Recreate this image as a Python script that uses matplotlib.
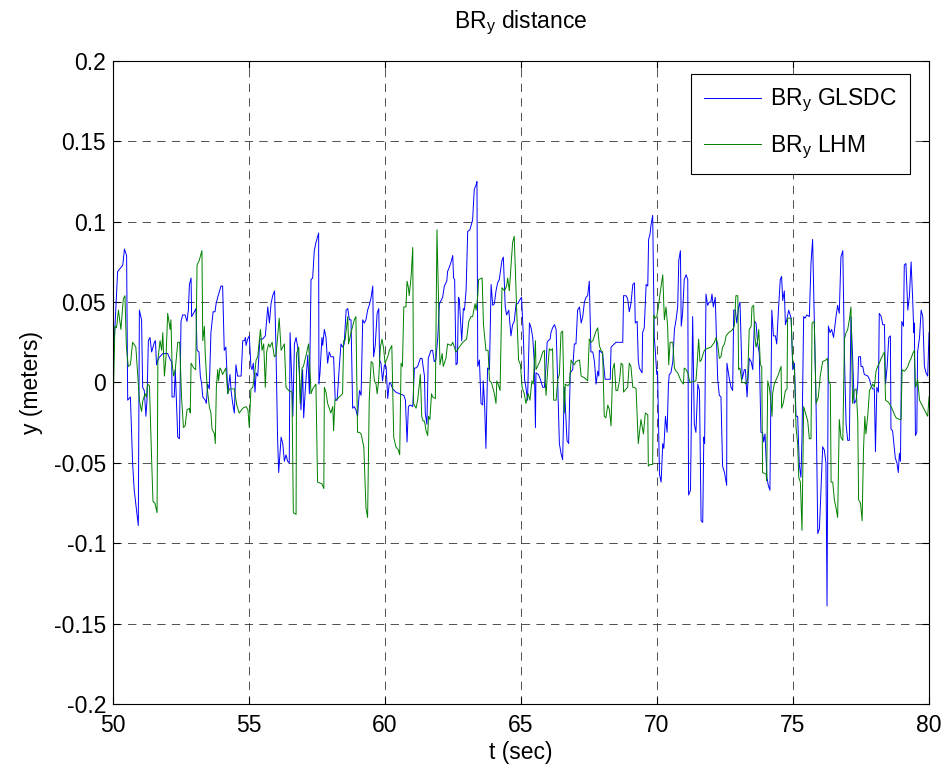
import numpy as np
import matplotlib
matplotlib.use("Agg")
import matplotlib.pyplot as plt

# GLSDC estimate of BR_y (time in s, distance in m)
glsdc_t = [
    50.00, 50.17, 50.36, 50.42, 50.50, 50.54, 50.64, 50.72, 50.78, 50.93, 50.97, 51.05, 51.09, 51.15,
    51.21, 51.25, 51.30, 51.36, 51.42, 51.52, 51.56, 51.60, 51.67, 51.83, 52.01, 52.11, 52.16, 52.17,
    52.25, 52.29, 52.38, 52.44, 52.50, 52.56, 52.65, 52.72, 52.77, 52.81, 52.87, 52.89, 52.99, 53.05,
    53.09, 53.16, 53.21, 53.26, 53.30, 53.39, 53.43, 53.48, 53.54, 53.60, 53.68, 53.75, 53.79, 53.85,
    53.97, 54.03, 54.09, 54.15, 54.22, 54.30, 54.34, 54.40, 54.46, 54.52, 54.58, 54.71, 54.77, 54.83,
    54.87, 54.89, 54.95, 55.01, 55.07, 55.11, 55.16, 55.22, 55.26, 55.32, 55.40, 55.50, 55.60, 55.69,
    55.75, 55.81, 55.87, 55.94, 55.99, 56.05, 56.09, 56.18, 56.24, 56.30, 56.36, 56.42, 56.48, 56.51,
    56.58, 56.61, 56.67, 56.73, 56.79, 56.85, 56.91, 56.97, 57.01, 57.07, 57.16, 57.22, 57.28, 57.34,
    57.40, 57.46, 57.56, 57.57, 57.61, 57.68, 57.71, 57.77, 57.83, 57.89, 57.95, 58.01, 58.11, 58.17,
    58.24, 58.32, 58.38, 58.44, 58.50, 58.57, 58.63, 58.69, 58.75, 58.81, 58.87, 58.93, 58.99, 59.06,
    59.12, 59.18, 59.24, 59.30, 59.36, 59.42, 59.49, 59.55, 59.58, 59.64, 59.71, 59.77, 59.80, 59.85,
    59.91, 59.98, 60.04, 60.10, 60.16, 60.22, 60.28, 60.40, 60.53, 60.69, 60.75, 60.81, 60.86, 60.93,
    61.02, 61.08, 61.14, 61.20, 61.30, 61.36, 61.45, 61.48, 61.54, 61.59, 61.69, 61.75, 61.81, 61.87,
    61.94, 62.00, 62.06, 62.12, 62.18, 62.27, 62.30, 62.37, 62.43, 62.49, 62.52, 62.56, 62.61, 62.66,
    62.70, 62.73, 62.82, 62.88, 62.92, 62.98, 63.04, 63.12, 63.22, 63.28, 63.35, 63.38, 63.41, 63.47,
    63.53, 63.59, 63.61, 63.66, 63.71, 63.77, 63.84, 63.90, 63.96, 64.02, 64.08, 64.14, 64.20, 64.30,
    64.35, 64.42, 64.47, 64.55, 64.63, 64.69, 64.75, 64.82, 64.88, 64.94, 65.02, 65.09, 65.13, 65.18,
    65.24, 65.31, 65.37, 65.43, 65.49, 65.53, 65.55, 65.64, 65.71, 65.80, 65.86, 65.92, 65.96, 66.00,
    66.07, 66.10, 66.16, 66.23, 66.29, 66.35, 66.41, 66.47, 66.53, 66.59, 66.63, 66.69, 66.75, 66.81,
    66.90, 66.96, 67.02, 67.08, 67.15, 67.21, 67.27, 67.33, 67.39, 67.45, 67.51, 67.57, 67.64, 67.70,
    67.76, 67.82, 67.86, 67.88, 67.94, 68.00, 68.09, 68.21, 68.28, 68.31, 68.37, 68.43, 68.49, 68.62,
    68.74, 68.77, 68.86, 68.92, 68.98, 69.04, 69.11, 69.17, 69.20, 69.27, 69.31, 69.35, 69.45, 69.47,
    69.53, 69.60, 69.66, 69.69, 69.74, 69.78, 69.84, 69.90, 69.94, 69.99, 70.02, 70.09, 70.15, 70.21,
    70.25, 70.31, 70.37, 70.42, 70.45, 70.51, 70.58, 70.64, 70.70, 70.76, 70.80, 70.86, 70.89, 70.94,
    71.00, 71.07, 71.13, 71.16, 71.23, 71.31, 71.37, 71.43, 71.50, 71.56, 71.62, 71.68, 71.72, 71.75,
    71.80, 71.86, 71.92, 71.98, 72.02, 72.07, 72.14, 72.23, 72.29, 72.35, 72.41, 72.48, 72.56, 72.57,
    72.66, 72.72, 72.78, 72.82, 72.88, 72.93, 73.00, 73.05, 73.13, 73.21, 73.25, 73.31, 73.39, 73.46,
    73.52, 73.58, 73.64, 73.70, 73.76, 73.82, 73.88, 73.92, 73.97, 74.04, 74.09, 74.15, 74.22, 74.28,
    74.35, 74.40, 74.46, 74.53, 74.58, 74.62, 74.68, 74.72, 74.77, 74.84, 74.93, 74.99, 75.05, 75.11,
    75.17, 75.23, 75.29, 75.33, 75.39, 75.44, 75.51, 75.60, 75.66, 75.72, 75.78, 75.85, 75.91, 75.97,
    76.03, 76.09, 76.15, 76.21, 76.25, 76.30, 76.36, 76.42, 76.49, 76.58, 76.64, 76.70, 76.76, 76.83,
    76.89, 76.95, 77.01, 77.07, 77.13, 77.19, 77.25, 77.32, 77.38, 77.41, 77.48, 77.50, 77.56, 77.62,
    77.75, 77.81, 77.87, 77.93, 77.99, 78.03, 78.08, 78.14, 78.17, 78.24, 78.30, 78.36, 78.40, 78.46,
    78.52, 78.58, 78.60, 78.66, 78.70, 78.76, 78.82, 78.87, 78.91, 78.95, 79.00, 79.06, 79.09, 79.15,
    79.22, 79.28, 79.34, 79.40, 79.44, 79.46, 79.50, 79.55, 79.58, 79.65, 79.71, 79.77, 79.83, 79.89,
    79.95, 80.00,
]
glsdc_y = [
    0.010, 0.069, 0.073, 0.083, 0.079, -0.011, -0.009, -0.050, -0.067, -0.089, 0.045, 0.039, -0.003, -0.005,
    -0.021, -0.011, 0.026, 0.028, 0.019, 0.025, 0.026, 0.011, 0.015, 0.018, 0.018, 0.014, 0.013, -0.009,
    -0.009, 0.008, -0.034, -0.035, 0.038, 0.042, 0.042, 0.038, 0.045, 0.061, 0.065, 0.041, 0.044, 0.046,
    0.020, 0.019, 0.004, -0.001, -0.009, -0.011, -0.013, -0.001, -0.004, 0.031, 0.044, 0.044, 0.049, 0.053,
    0.060, 0.060, 0.020, 0.022, -0.007, 0.005, -0.005, -0.013, -0.019, 0.011, 0.004, 0.004, 0.026, 0.026,
    0.028, 0.023, 0.027, 0.029, 0.010, 0.008, 0.012, -0.006, 0.006, 0.004, 0.027, 0.027, 0.029, 0.047,
    0.037, 0.049, 0.054, 0.057, 0.022, -0.034, -0.056, -0.034, -0.038, -0.049, -0.045, -0.049, -0.050, 0.031,
    -0.003, -0.021, 0.024, 0.028, 0.022, 0.006, -0.017, 0.008, -0.022, -0.004, 0.017, -0.007, 0.064, 0.065,
    0.082, 0.087, 0.093, -0.001, 0.006, 0.028, 0.023, 0.033, 0.028, 0.012, 0.019, 0.016, 0.016, -0.011,
    -0.011, 0.010, 0.024, 0.022, 0.024, 0.045, 0.046, 0.039, 0.039, -0.016, -0.015, -0.017, -0.021, -0.005,
    -0.008, 0.039, 0.037, 0.039, 0.045, 0.048, 0.053, 0.060, 0.016, 0.023, 0.043, 0.046, 0.014, 0.012,
    0.001, 0.011, 0.010, -0.010, 0.000, -0.001, -0.004, -0.006, -0.007, -0.008, -0.011, -0.037, -0.015, -0.014,
    -0.015, 0.009, 0.009, 0.010, 0.015, 0.015, 0.004, -0.019, -0.026, 0.015, 0.020, 0.020, 0.013, 0.014,
    0.028, 0.049, 0.051, 0.053, 0.060, 0.063, 0.069, 0.072, 0.075, 0.079, 0.065, 0.064, 0.011, 0.012,
    0.053, 0.052, 0.026, 0.046, 0.045, 0.057, 0.094, 0.095, 0.101, 0.120, 0.123, 0.125, 0.010, 0.014,
    -0.013, -0.014, 0.001, -0.013, -0.041, 0.009, 0.008, 0.061, 0.048, 0.049, 0.057, 0.062, 0.064, 0.076,
    0.078, 0.047, 0.042, 0.045, 0.029, 0.036, 0.038, 0.049, 0.049, 0.051, 0.053, 0.027, 0.002, -0.003,
    -0.011, 0.037, 0.034, 0.028, 0.012, -0.028, 0.006, 0.005, 0.002, -0.003, -0.003, 0.010, 0.025, 0.026,
    0.027, 0.031, 0.034, 0.036, 0.033, -0.001, -0.038, -0.044, -0.048, -0.003, -0.015, -0.036, -0.038, 0.006,
    0.008, 0.024, 0.024, 0.045, 0.047, 0.037, 0.041, 0.050, 0.053, 0.054, 0.063, 0.019, 0.019, 0.013,
    -0.001, 0.007, 0.004, 0.020, 0.019, 0.018, 0.002, 0.002, 0.002, 0.022, 0.023, 0.024, 0.025, 0.025,
    0.025, 0.054, 0.054, 0.052, 0.044, 0.049, 0.061, 0.062, 0.037, 0.038, 0.014, 0.009, 0.006, 0.031,
    0.034, 0.061, 0.060, 0.089, 0.092, 0.098, 0.104, 0.028, 0.019, 0.005, 0.007, -0.057, -0.062, -0.038,
    -0.041, -0.021, -0.031, -0.001, 0.005, 0.006, 0.013, 0.033, 0.039, 0.047, 0.076, 0.082, 0.035, 0.043,
    0.064, 0.067, 0.064, -0.070, -0.067, 0.041, -0.026, -0.031, -0.001, -0.005, -0.086, -0.087, -0.034, -0.038,
    0.055, 0.048, 0.050, 0.050, 0.055, 0.047, 0.053, 0.002, -0.008, -0.009, -0.052, -0.056, -0.064, 0.012,
    0.002, -0.003, -0.005, 0.045, 0.045, 0.037, 0.047, 0.050, 0.002, 0.008, 0.008, -0.009, 0.015, 0.013,
    0.008, 0.038, 0.037, 0.024, 0.018, -0.031, -0.031, -0.037, -0.032, -0.059, -0.064, -0.067, 0.045, 0.029,
    0.029, 0.024, 0.044, 0.064, 0.066, 0.051, 0.057, 0.036, 0.039, 0.045, 0.040, 0.008, 0.012, -0.021,
    -0.021, -0.051, -0.059, -0.034, 0.041, 0.040, 0.042, 0.041, 0.074, 0.089, 0.041, -0.017, -0.094, -0.091,
    -0.065, -0.040, -0.042, -0.050, -0.139, 0.035, 0.031, 0.033, 0.028, 0.041, 0.048, 0.043, 0.078, 0.082,
    0.016, -0.026, -0.036, -0.036, 0.041, 0.016, -0.013, -0.011, -0.001, 0.016, 0.016, 0.010, 0.010, 0.005,
    0.004, 0.002, -0.002, -0.004, -0.004, -0.043, -0.003, -0.006, 0.043, 0.041, 0.036, 0.036, -0.001, 0.010,
    0.028, 0.029, -0.029, -0.030, -0.037, -0.047, -0.050, -0.056, -0.044, -0.049, 0.038, 0.035, 0.073, 0.074,
    0.045, 0.054, 0.075, 0.051, 0.031, 0.037, -0.033, -0.031, 0.019, 0.028, 0.045, 0.041, 0.010, 0.006,
    0.004, 0.031,
]

# LHM estimate of BR_y
lhm_t = [
    50.00, 50.07, 50.13, 50.20, 50.29, 50.38, 50.44, 50.49, 50.56, 50.64, 50.72, 50.84, 50.97, 51.05,
    51.10, 51.18, 51.23, 51.27, 51.34, 51.42, 51.47, 51.54, 51.62, 51.65, 51.73, 51.79, 51.83, 51.89,
    51.95, 52.01, 52.10, 52.13, 52.17, 52.23, 52.29, 52.38, 52.45, 52.52, 52.59, 52.65, 52.72, 52.81,
    52.84, 52.87, 52.97, 53.04, 53.09, 53.17, 53.27, 53.30, 53.36, 53.39, 53.46, 53.54, 53.60, 53.64,
    53.73, 53.76, 53.80, 53.85, 53.88, 53.93, 53.97, 54.03, 54.15, 54.22, 54.28, 54.46, 54.55, 54.64,
    54.77, 54.89, 54.96, 55.01, 55.07, 55.14, 55.20, 55.26, 55.32, 55.38, 55.42, 55.48, 55.54, 55.60,
    55.65, 55.72, 55.77, 55.85, 55.93, 55.99, 56.05, 56.11, 56.18, 56.24, 56.30, 56.36, 56.46, 56.58,
    56.63, 56.73, 56.75, 56.83, 56.88, 56.95, 57.00, 57.10, 57.19, 57.22, 57.28, 57.34, 57.46, 57.52,
    57.68, 57.75, 57.77, 57.83, 57.89, 58.01, 58.08, 58.11, 58.16, 58.26, 58.32, 58.44, 58.48, 58.53,
    58.63, 58.66, 58.75, 58.87, 58.93, 58.99, 59.06, 59.12, 59.22, 59.30, 59.36, 59.42, 59.49, 59.55,
    59.61, 59.67, 59.71, 59.76, 59.83, 59.89, 59.95, 60.00, 60.10, 60.16, 60.25, 60.32, 60.40, 60.49,
    60.54, 60.59, 60.64, 60.69, 60.77, 60.81, 60.86, 60.89, 60.96, 61.02, 61.05, 61.14, 61.20, 61.26,
    61.30, 61.35, 61.40, 61.45, 61.51, 61.57, 61.60, 61.65, 61.71, 61.75, 61.85, 61.91, 61.97, 62.02,
    62.10, 62.14, 62.18, 62.24, 62.30, 62.43, 62.49, 62.61, 62.73, 62.86, 63.00, 63.08, 63.16, 63.22,
    63.31, 63.35, 63.41, 63.44, 63.57, 63.62, 63.71, 63.79, 63.84, 63.91, 63.96, 64.02, 64.08, 64.11,
    64.18, 64.23, 64.30, 64.39, 64.47, 64.51, 64.57, 64.63, 64.69, 64.75, 64.84, 64.91, 64.98, 65.04,
    65.12, 65.18, 65.26, 65.33, 65.40, 65.45, 65.53, 65.55, 65.61, 65.71, 65.80, 65.86, 65.88, 65.92,
    65.98, 66.04, 66.10, 66.16, 66.20, 66.29, 66.35, 66.41, 66.47, 66.53, 66.59, 66.63, 66.72, 66.78,
    66.84, 66.90, 66.96, 67.02, 67.15, 67.21, 67.33, 67.45, 67.51, 67.57, 67.64, 67.70, 67.76, 67.82,
    67.88, 67.94, 68.00, 68.06, 68.12, 68.19, 68.25, 68.31, 68.37, 68.43, 68.49, 68.55, 68.62, 68.68,
    68.74, 68.77, 68.86, 68.92, 68.98, 69.04, 69.11, 69.17, 69.23, 69.31, 69.41, 69.45, 69.50, 69.57,
    69.66, 69.68, 69.74, 69.84, 69.88, 69.94, 69.99, 70.05, 70.11, 70.21, 70.27, 70.33, 70.39, 70.43,
    70.48, 70.58, 70.64, 70.70, 70.76, 70.88, 70.97, 71.00, 71.07, 71.13, 71.21, 71.43, 71.47, 71.53,
    71.58, 71.63, 71.68, 71.74, 71.83, 71.98, 72.11, 72.17, 72.23, 72.29, 72.35, 72.41, 72.48, 72.54,
    72.63, 72.72, 72.78, 72.84, 72.90, 72.97, 73.00, 73.05, 73.12, 73.21, 73.27, 73.33, 73.39, 73.46,
    73.49, 73.55, 73.60, 73.64, 73.70, 73.74, 73.80, 73.85, 73.88, 74.01, 74.03, 74.07, 74.13, 74.17,
    74.23, 74.25, 74.31, 74.44, 74.56, 74.58, 74.64, 74.72, 74.78, 74.80, 74.93, 74.99, 75.05, 75.11,
    75.17, 75.21, 75.27, 75.33, 75.39, 75.44, 75.54, 75.60, 75.66, 75.70, 75.78, 75.85, 75.93, 76.00,
    76.09, 76.21, 76.27, 76.31, 76.37, 76.40, 76.46, 76.52, 76.58, 76.64, 76.70, 76.76, 76.83, 76.89,
    76.95, 77.01, 77.07, 77.13, 77.19, 77.25, 77.32, 77.38, 77.41, 77.48, 77.54, 77.59, 77.64, 77.68,
    77.75, 77.81, 77.87, 77.93, 77.99, 78.05, 78.11, 78.17, 78.24, 78.30, 78.36, 78.40, 78.48, 78.54,
    78.60, 78.66, 78.73, 78.79, 78.91, 78.97, 79.01, 79.09, 79.15, 79.22, 79.28, 79.34, 79.40, 79.46,
    79.50, 79.55, 79.58, 79.65, 79.71, 79.77, 79.83, 79.89, 79.95, 80.00,
]
lhm_y = [
    -0.019, 0.035, 0.034, 0.045, 0.033, 0.052, 0.054, 0.023, 0.010, 0.011, 0.025, 0.022, -0.011, -0.018,
    -0.011, -0.007, -0.009, -0.001, -0.002, -0.048, -0.074, -0.075, -0.081, 0.014, 0.026, 0.020, 0.031, 0.004,
    0.016, 0.043, 0.033, 0.039, 0.012, 0.004, 0.008, 0.025, 0.025, -0.009, -0.028, -0.027, -0.017, -0.016,
    -0.019, 0.012, 0.009, 0.008, 0.073, 0.076, 0.082, 0.026, 0.035, 0.018, -0.003, -0.015, -0.019, -0.029,
    -0.032, -0.038, -0.003, 0.008, 0.001, 0.009, 0.008, 0.005, 0.009, -0.007, -0.004, -0.004, -0.014, -0.019,
    -0.016, -0.015, -0.017, -0.028, -0.004, -0.003, 0.004, 0.014, 0.016, 0.026, 0.033, 0.020, 0.024, -0.003,
    0.019, 0.024, 0.022, 0.025, 0.016, 0.017, 0.028, 0.040, 0.020, 0.022, 0.024, -0.003, -0.005, -0.006,
    -0.081, -0.082, 0.018, 0.022, -0.013, 0.009, 0.010, 0.017, 0.024, 0.016, -0.007, -0.004, -0.001, -0.062,
    -0.063, -0.066, -0.003, -0.006, -0.013, -0.019, -0.015, -0.030, -0.011, -0.010, -0.009, -0.007, 0.026, 0.026,
    0.041, 0.024, 0.031, 0.039, 0.041, -0.031, -0.031, -0.032, -0.040, -0.078, -0.084, -0.011, 0.013, 0.012,
    0.001, -0.001, -0.007, 0.000, 0.022, 0.027, 0.021, 0.012, 0.016, 0.020, 0.023, -0.034, -0.040, -0.042,
    -0.045, 0.012, 0.010, 0.047, 0.047, 0.063, 0.059, 0.054, 0.066, 0.084, -0.013, -0.016, -0.011, -0.001,
    0.005, -0.021, -0.024, -0.024, -0.030, -0.033, -0.021, -0.023, -0.007, -0.009, -0.010, 0.095, 0.049, 0.011,
    0.018, 0.010, 0.012, 0.015, 0.024, 0.023, 0.025, 0.019, 0.022, 0.025, 0.027, 0.038, 0.041, 0.041,
    0.049, 0.045, 0.054, 0.064, 0.065, 0.036, 0.020, 0.020, 0.001, 0.000, -0.003, -0.007, -0.013, 0.001,
    -0.002, -0.005, 0.059, 0.057, 0.060, 0.065, 0.057, 0.072, 0.087, 0.091, 0.045, 0.014, 0.011, -0.003,
    -0.007, -0.013, -0.007, -0.011, 0.001, -0.001, 0.026, 0.008, 0.010, 0.014, 0.019, 0.020, 0.004, -0.008,
    0.008, 0.021, 0.020, 0.021, -0.011, -0.011, 0.002, 0.005, 0.031, 0.032, -0.019, -0.001, -0.002, -0.001,
    0.014, 0.012, 0.011, 0.013, 0.014, 0.004, 0.003, 0.001, 0.027, 0.025, 0.026, 0.029, 0.032, 0.034,
    0.023, 0.020, 0.019, -0.021, -0.022, -0.014, -0.017, -0.027, 0.008, 0.012, -0.005, -0.005, 0.001, 0.012,
    0.011, -0.006, -0.004, -0.003, 0.012, 0.010, -0.003, -0.003, -0.004, -0.038, -0.023, -0.027, -0.032, -0.019,
    -0.020, -0.052, -0.051, -0.051, 0.042, 0.040, 0.041, 0.047, 0.055, 0.067, 0.039, 0.047, 0.035, 0.011,
    0.025, 0.025, 0.009, 0.007, 0.006, 0.001, -0.001, 0.009, 0.008, 0.006, 0.000, 0.001, 0.010, 0.027,
    0.013, 0.014, 0.017, 0.020, 0.021, 0.022, 0.025, 0.028, 0.024, 0.015, 0.016, 0.022, 0.024, 0.029,
    0.031, 0.032, 0.033, 0.035, 0.054, 0.054, 0.008, 0.009, 0.000, 0.000, -0.001, 0.002, 0.033, 0.035,
    0.047, 0.048, 0.028, 0.022, 0.026, 0.033, 0.011, 0.010, -0.056, -0.057, -0.061, 0.001, -0.003, -0.009,
    -0.021, -0.007, -0.001, 0.004, 0.010, -0.016, -0.013, -0.005, -0.004, 0.040, 0.040, 0.012, 0.008, -0.028,
    -0.038, -0.059, -0.062, -0.092, -0.015, -0.018, -0.024, -0.035, -0.035, 0.037, 0.038, -0.013, -0.009, 0.004,
    0.013, 0.014, 0.015, 0.001, -0.001, -0.062, -0.062, -0.073, -0.078, -0.084, -0.023, -0.034, -0.036, 0.027,
    0.031, 0.033, 0.039, 0.047, -0.013, -0.005, -0.004, -0.023, -0.073, -0.075, -0.086, -0.042, -0.021, -0.032,
    -0.020, -0.005, -0.003, -0.001, -0.003, 0.007, 0.010, 0.012, 0.015, 0.017, 0.019, -0.011, -0.012, -0.013,
    -0.015, -0.017, -0.020, -0.022, -0.023, -0.023, 0.008, 0.007, 0.008, 0.010, 0.013, 0.015, 0.018, 0.020,
    -0.003, -0.001, 0.002, -0.011, -0.013, -0.015, -0.017, -0.019, -0.021, -0.009,
]

series = [
    (glsdc_t, glsdc_y, (0.0, 0.0, 1.0), r"BR$_\mathregular{y}$ GLSDC"),
    (lhm_t, lhm_y, (0.0, 0.5, 0.0), r"BR$_\mathregular{y}$ LHM"),
]

x_ticks = [50, 55, 60, 65, 70, 75, 80]
y_ticks = [-0.2, -0.15, -0.1, -0.05, 0, 0.05, 0.1, 0.15, 0.2]
y_labels = ["-0.2", "-0.15", "-0.1", "-0.05", "0", "0.05", "0.1", "0.15", "0.2"]

FS = 16.5

plt.rcParams["font.family"] = ["Liberation Sans", "DejaVu Sans"]
plt.rcParams["mathtext.fontset"] = "custom"
plt.rcParams["mathtext.rm"] = "Liberation Sans"
plt.rcParams["lines.scale_dashes"] = False

fig = plt.figure(figsize=(9.48, 7.76), dpi=100)
ax = fig.add_axes([0.1192, 0.0928, 0.8608, 0.8286])

for t, y, color, label in series:
    ax.plot(np.array(t), np.array(y), color=color, lw=0.7, label=label)

ax.set_xlim(50, 80)
ax.set_ylim(-0.2, 0.2)
ax.set_xticks(x_ticks)
ax.set_yticks(y_ticks)
ax.set_yticklabels(y_labels)
ax.tick_params(direction="in", length=5, width=0.8, top=True, right=True,
               labelsize=FS)
ax.tick_params(axis="x", pad=7)
ax.tick_params(axis="y", pad=5)
ax.grid(True, color="0.2", lw=0.6, linestyle=(0, (6, 4.5)))
for s in ax.spines.values():
    s.set_linewidth(0.8)

ax.set_title(r"BR$_\mathregular{y}$ distance", fontsize=FS, pad=24)
ax.set_xlabel("t (sec)", fontsize=FS, labelpad=3)
ax.set_ylabel("y (meters)", fontsize=FS, labelpad=8)

leg = ax.legend(loc="upper right", bbox_to_anchor=(0.9767, 0.9798), fontsize=FS,
                handlelength=2.5, handletextpad=0.4, borderpad=0.57,
                labelspacing=0.85, fancybox=False, framealpha=1.0,
                edgecolor="black", borderaxespad=0)
leg.get_frame().set_linewidth(0.8)

fig.savefig("out.png", dpi=100)
